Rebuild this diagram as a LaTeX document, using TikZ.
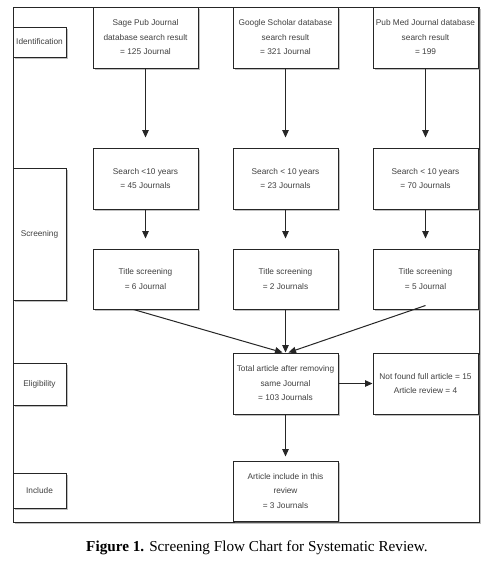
\documentclass[tikz,border=0pt]{standalone}
\usepackage{fontspec}
\setmainfont{Liberation Serif}
\newfontfamily\boxfont{Liberation Sans}
\usetikzlibrary{arrows.meta,shadows,calc}
\begin{document}
\begin{tikzpicture}[x=1pt,y=-1pt,
  box/.style={draw=black!85, line width=1pt, fill=white, rectangle, inner sep=1pt, align=center,
    font=\boxfont\fontsize{8.3}{14.5}\selectfont, text=black!75,
    drop shadow={shadow xshift=1.8pt, shadow yshift=-1.8pt, opacity=0.5, fill=black!50}},
  frame/.style={draw=black!85, line width=1pt, fill=white,
    drop shadow={shadow xshift=1.8pt, shadow yshift=-1.8pt, opacity=0.5, fill=black!50}},
  arr/.style={-{Triangle[length=7.5pt,width=6.5pt]}, line width=1pt, draw=black!85},
  captext/.style={font=\fontsize{15.2}{17}\selectfont, text=black}]
\useasboundingbox (0,0) rectangle (496,562);
\path[frame] (13,7) rectangle (479,522);
% stage labels
\node[box, minimum width=53pt, minimum height=30pt] (ident) at (39.5,42) {Identification};
\node[box, minimum width=53pt, minimum height=132pt] (screen) at (39.5,234) {Screening};
\node[box, minimum width=53pt, minimum height=42pt] (elig) at (39.5,384) {Eligibility};
\node[box, minimum width=53pt, minimum height=35pt] (incl) at (39.5,490.5) {Include};
% sources
\node[box, minimum width=105pt, minimum height=61pt] (sage) at (145.5,37.5) {Sage Pub Journal\\database search result\\= 125 Journal};
\node[box, minimum width=105pt, minimum height=61pt] (google) at (285.5,37.5) {Google Scholar database\\search result\\= 321 Journal};
\node[box, minimum width=105pt, minimum height=61pt] (pubmed) at (425.5,37.5) {Pub Med Journal database\\search result\\= 199};
% search <10 years
\node[box, minimum width=105pt, minimum height=61pt] (s1) at (145.5,178.5) {Search <10 years\\= 45 Journals};
\node[box, minimum width=105pt, minimum height=61pt] (s2) at (285.5,178.5) {Search < 10 years\\= 23 Journals};
\node[box, minimum width=105pt, minimum height=61pt] (s3) at (425.5,178.5) {Search < 10 years\\= 70 Journals};
% title screening
\node[box, minimum width=105pt, minimum height=60pt] (t1) at (145.5,279) {Title screening\\= 6 Journal};
\node[box, minimum width=105pt, minimum height=60pt] (t2) at (285.5,279) {Title screening\\= 2 Journals};
\node[box, minimum width=105pt, minimum height=60pt] (t3) at (425.5,279) {Title screening\\= 5 Journal};
% eligibility
\node[box, minimum width=105pt, minimum height=61pt] (total) at (285.5,383.5) {Total article after removing\\same Journal\\= 103 Journals};
\node[box, minimum width=105pt, minimum height=61pt] (nf) at (425.5,383.5) {Not found full article = 15\\Article review = 4};
% include
\node[box, minimum width=105pt, minimum height=60pt] (art) at (285.5,491) {Article include in this\\review\\= 3 Journals};
% connectors
\draw[arr, shorten >=10pt] (sage) -- (s1);
\draw[arr, shorten >=10pt] (google) -- (s2);
\draw[arr, shorten >=10pt] (pubmed) -- (s3);
\draw[arr, shorten >=10pt] (s1) -- (t1);
\draw[arr, shorten >=10pt] (s2) -- (t2);
\draw[arr, shorten >=10pt] (s3) -- (t3);
\draw[arr] ([xshift=-12pt]t1.south) -- ([xshift=-3pt]total.north);
\draw[arr] (t2.south) -- (total.north);
\draw[arr] ([yshift=4pt]t3.south) -- ([xshift=3pt]total.north);
\draw[arr] (total) -- (nf);
\draw[arr, shorten >=4pt] (total) -- (art);
% caption
\node[captext] (caption) at (257,548) {\textbf{Figure 1.} Screening Flow Chart for Systematic Review.};
\end{tikzpicture}
\end{document}
